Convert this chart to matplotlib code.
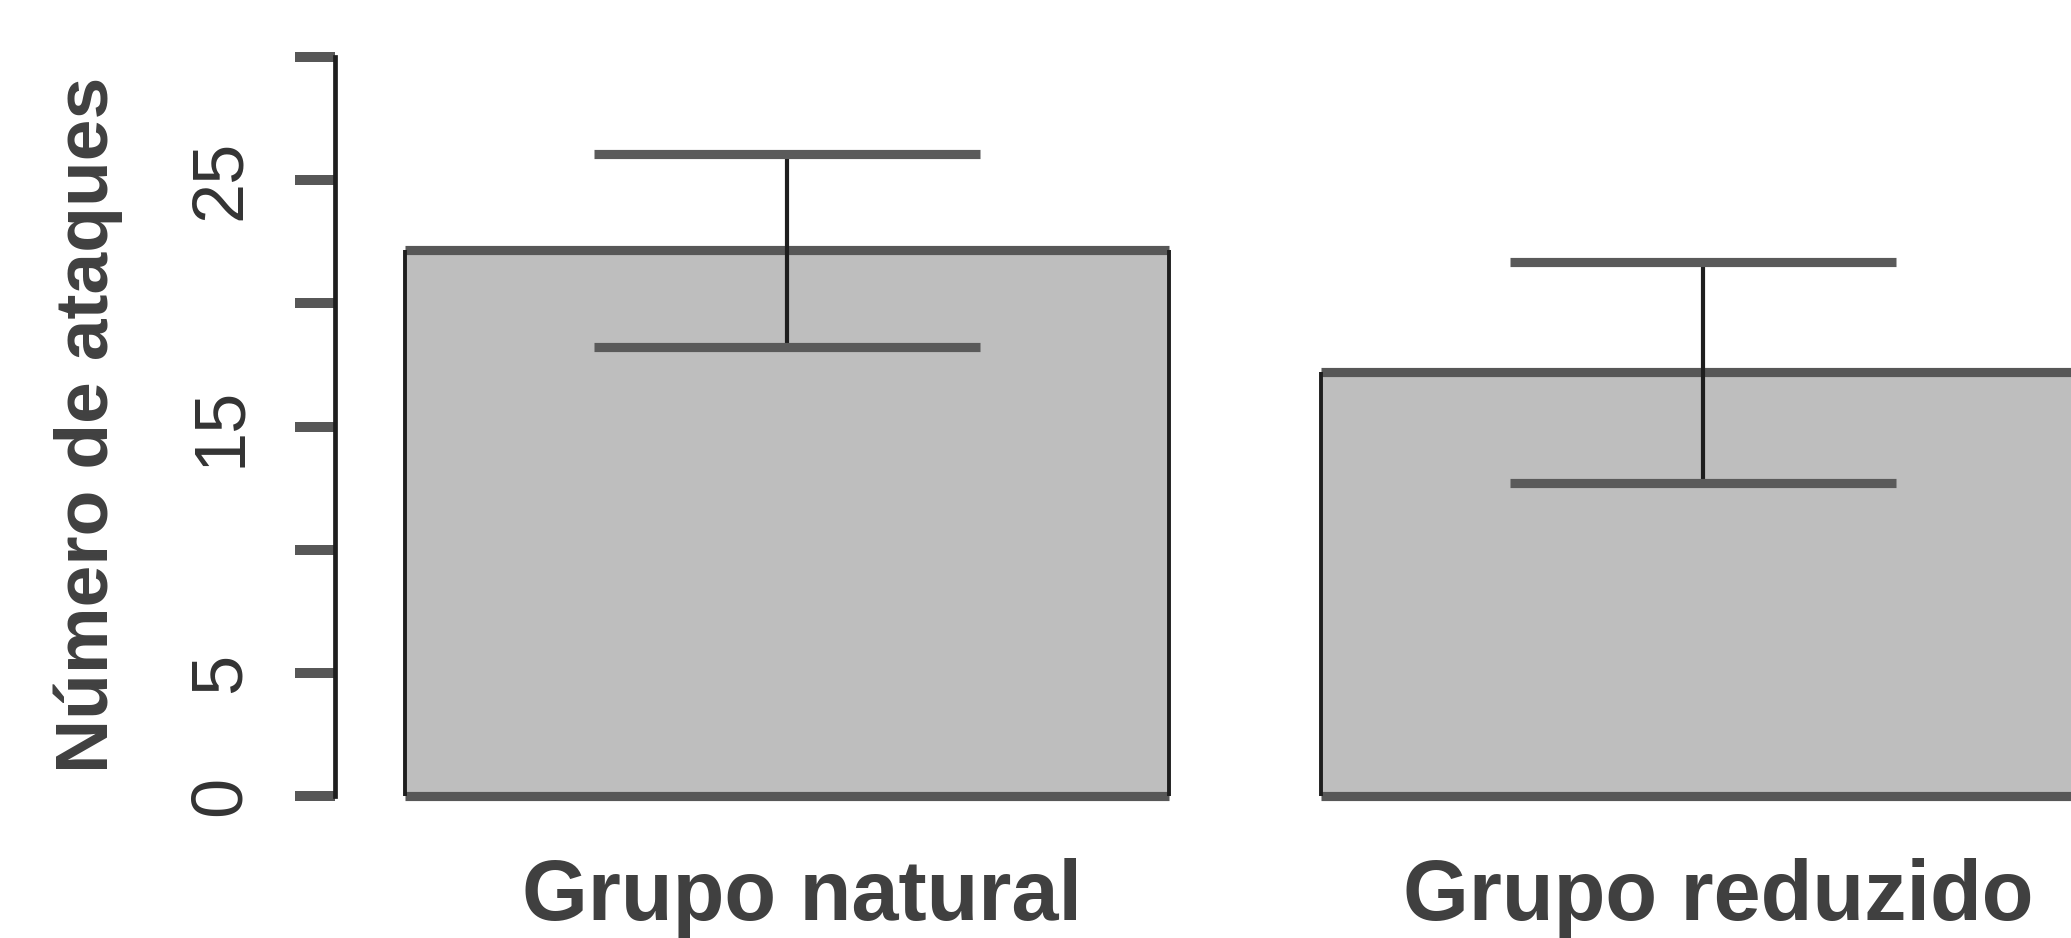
import matplotlib
matplotlib.use("Agg")
import matplotlib.pyplot as plt

plt.rcParams['font.family'] = ['Liberation Sans', 'DejaVu Sans']
plt.rcParams['font.sans-serif'] = ['Liberation Sans', 'DejaVu Sans']

# ---- data ----
categories = ["Grupo natural", "Grupo reduzido"]
means = [22.15, 17.2]
errors = [3.9, 4.5]
yticks = [0, 5, 10, 15, 20, 25, 30]
ytick_labels = ["0", "5", "", "15", "", "25", ""]
ylabel = "Número de ataques"

# ---- layout ----
W, H, DPI = 2071, 938, 100
fig = plt.figure(figsize=(W / DPI, H / DPI), dpi=DPI)

left_px = 335
ymin, ymax = -1.2, 31.0
px_per_unit = 24.63
y0_px = 796  # pixel row of y=0 from top
bot_px = y0_px - px_per_unit * ymin
top_px = y0_px - px_per_unit * ymax
ax = fig.add_axes([left_px / W, (H - bot_px) / H, 1 - left_px / W, (bot_px - top_px) / H])
ax.set_xlim(0.108, 2.382)
ax.set_ylim(ymin, ymax)

bar_w = 1.0
space = 0.2
xs = [space + i * (bar_w + space) + bar_w / 2 for i in range(len(categories))]

fill = "#bebebe"
hcol = "#575757"
vcol = "#1e1e1e"
ax.bar(xs, means, width=bar_w, color=fill, edgecolor="none", zorder=1)
for x, m in zip(xs, means):
    l, r = x - bar_w / 2, x + bar_w / 2
    ax.hlines([0, m], l, r, colors=hcol, linewidth=6.6, zorder=2, capstyle="butt")
    ax.vlines([l, r], 0, m, colors=vcol, linewidth=2.8, zorder=3)

cap = 0.253
for x, m, e in zip(xs, means, errors):
    ax.vlines(x, m - e, m + e, colors=vcol, linewidth=3.0, zorder=4)
    ax.hlines([m - e, m + e], x - cap, x + cap, colors="#5a5a5a", linewidth=6.6, zorder=5)

# axes styling
for s in ["top", "right", "bottom"]:
    ax.spines[s].set_visible(False)
ax.spines["left"].set_bounds(0, 30)
ax.spines["left"].set_linewidth(3.4)
ax.spines["left"].set_color(vcol)
ax.set_xticks([])
ax.set_yticks(yticks)
ax.set_yticklabels(ytick_labels, rotation=90, va="center", fontsize=52, color="#333333")
for lbl in ax.get_yticklabels():
    lbl.set_fontfamily(['Liberation Sans', 'DejaVu Sans'])
ax.tick_params(axis="y", direction="out", length=28.8, width=7.2, color=hcol, pad=29)

# x category labels
label_base = [-5.02, -5.02]
for x, lab, yb in zip(xs, categories, label_base):
    ax.text(x + 0.02, yb, lab, ha="center", va="baseline", fontsize=61,
            fontweight="bold", color="#404040", clip_on=False)

fig.text(88 / W, 1 - 425 / H, ylabel, rotation=90, ha="center", va="center",
         fontsize=54, fontweight="bold", color="#404040")

fig.savefig("out.png", dpi=DPI, facecolor="white")
